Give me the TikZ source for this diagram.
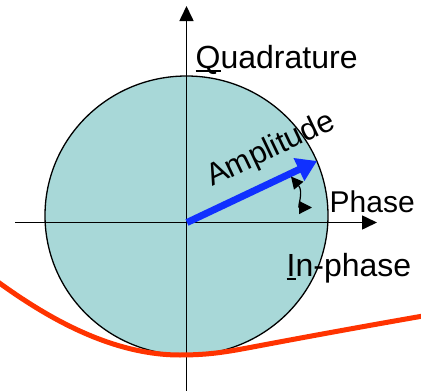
\documentclass[tikz,border=0pt]{standalone}
\usepackage{fontspec}
\setmainfont{Liberation Sans}
\usepackage{calc}
\usetikzlibrary{arrows.meta}
\definecolor{discfill}{RGB}{168,216,216}
\definecolor{vecblue}{RGB}{16,48,255}
\definecolor{curvered}{RGB}{255,51,0}
\newcommand{\ulfirst}[1]{\rlap{\rule[-3.5pt]{\widthof{#1}}{1.8pt}}#1}
\begin{document}
\begin{tikzpicture}[x=1pt,y=-1pt,
  axis/.style={line width=1.6pt,-{Triangle[length=15pt,width=14pt]}},
  lbl/.style={inner sep=0pt,font=\fontsize{32}{38}\selectfont},
  vec/.style={vecblue,line width=7pt,-{Triangle[length=20pt,width=24pt]}},
  phasearrow/.style={line width=1.2pt,{Triangle[length=12pt,width=12pt]}-{Triangle[length=13pt,width=13pt]}},
  redcurve/.style={curvered,line width=5pt,line cap=round}]
\useasboundingbox (0,0) rectangle (421,391);
% disc
\fill[discfill,draw=black,line width=1.3pt] (186.5,215.5) ellipse [x radius=141.5,y radius=139.5];
% axes
\coordinate (xl) at (15,222.5);
\coordinate (xr) at (377,222.5);
\coordinate (yb) at (186.5,391);
\coordinate (yt) at (186.5,6);
\draw[axis] (xl) -- (xr);
\draw[axis] (yb) -- (yt);
% amplitude vector
\coordinate (o) at (187,222.5);
\coordinate (tip) at (317,161);
\draw[vec] (o) -- (tip);
% phase arrow
\coordinate (pa) at (291,176.5);
\coordinate (pb) at (312,207.5);
\draw[phasearrow] (pa) .. controls (304,192) and (297,207.5) .. (pb);
% labels
\node[lbl,anchor=base west] (quad) at (195.5,68) {\ulfirst{Q}uadrature};
\node[lbl,anchor=base west,font=\fontsize{30}{36}\selectfont] (phase) at (329.5,212) {Phase};
\node[lbl,anchor=base west] (inph) at (286.5,276.5) {\ulfirst{I}n-phase};
\node[lbl,anchor=base west,rotate=25.5,font=\fontsize{31}{36}\selectfont] (amp) at (212,187) {Amplitude};
% red curve
\coordinate (rl) at (-2,282);
\coordinate (rm) at (180,355);
\coordinate (rk) at (250,347.5);
\coordinate (rr) at (423,316);
\draw[redcurve] (rl) .. controls (45,316) and (110,355) .. (rm)
  .. controls (210,355) and (228,351.5) .. (rk)
  .. controls (300,338) and (360,327) .. (rr);
\end{tikzpicture}
\end{document}
